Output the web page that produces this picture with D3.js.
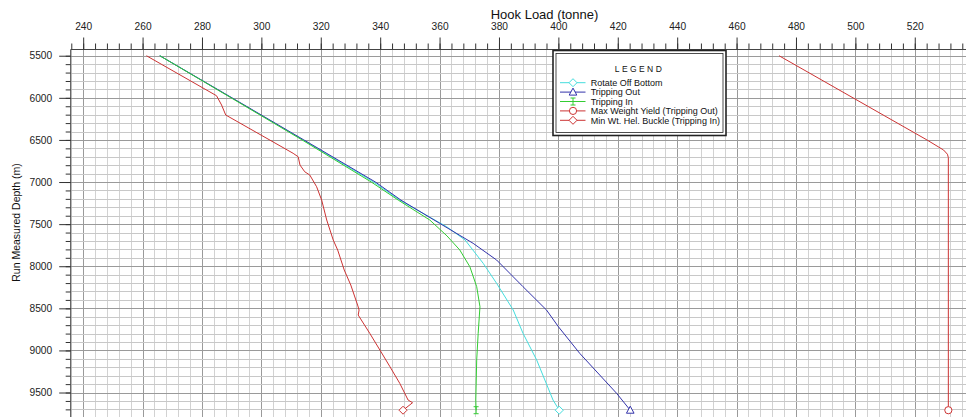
<!DOCTYPE html>
<html lang="en">
<head>
<meta charset="utf-8">
<title>Hook Load vs Run Measured Depth</title>
<script src="https://d3js.org/d3.v7.min.js"></script>
<style>
  body { margin: 0; background: #fff; }
  svg { display: block; font-family: "Liberation Sans", Arial, sans-serif; }
</style>
</head>
<body>
<div class="chart"></div>
<script>
// series data: depth (m) and hook load (tonne)
var rotateDepth = [5500, 6000, 6500, 7000, 7215, 7531, 7689, 7966, 8203, 8520, 8797, 9114, 9589, 9710];
var rotateLoad  = [265.8, 290.0, 314.0, 337.8, 346.6, 362.4, 368.6, 374.7, 379.2, 384.8, 388.1, 392.7, 398.2, 400.3];

var outDepth = [5500, 6000, 6500, 7000, 7215, 7490, 7728, 7926, 8243, 8520, 8718, 9035, 9509, 9710];
var outLoad  = [265.8, 290.1, 314.3, 338.4, 347.0, 360.0, 371.3, 379.2, 388.1, 396.0, 400.0, 407.2, 419.6, 424.2];

var inDepth = [5500, 6000, 6500, 7000, 7215, 7451, 7640, 7807, 8006, 8243, 8481, 8797, 9114, 9589, 9710];
var inLoad  = [265.8, 289.8, 313.7, 337.0, 346.1, 356.7, 362.5, 366.8, 370.2, 372.5, 373.6, 373.0, 372.5, 372.2, 372.3];

var yieldDepth = [5500, 6000, 6500, 6620, 6670, 6710, 9710];
var yieldLoad  = [474.3, 499.2, 524.1, 529.7, 531.0, 531.3, 531.3];

var buckleDepth = [5500, 5975, 6085, 6204, 6659, 6700, 6798, 6878, 6917, 7056, 7214, 7451, 7689, 7808, 8045, 8223, 8461, 8520, 8580, 8797, 8995, 9194, 9391, 9589, 9621, 9710];
var buckleLoad  = [261.3, 284.9, 286.6, 288.0, 310.7, 312.4, 313.0, 314.6, 316.3, 318.6, 320.3, 322.0, 324.2, 325.7, 327.9, 330.1, 332.4, 332.9, 332.6, 336.5, 339.9, 343.3, 346.6, 349.4, 350.9, 347.7];

var xTicks = d3.range(240, 541, 20);
var yTicks = d3.range(5500, 9501, 500);
var legendNames = ["Rotate Off Bottom", "Tripping Out", "Tripping In", "Max Weight Yield (Tripping Out)", "Min Wt. Hel. Buckle (Tripping In)"];

var w = 966, h = 417;
var svg = d3.select("div.chart").append("svg").attr("width", w).attr("height", h);

// scales (plot runs off the right and bottom edges, like the screenshot)
var x = d3.scaleLinear().domain([235.8, 545]).range([70.7, 70.7 + (545 - 235.8) * 2.97]);
var y = d3.scaleLinear().domain([5426, 9800]).range([49.5, 49.5 + (9800 - 5426) * 0.0842]);

// grid
var grid = svg.append("g");
grid.selectAll("line.vmin").data(d3.range(236, 545, 4)).enter().append("line")
    .attr("x1", function(d) { return Math.round(x(d)) + 0.5; })
    .attr("x2", function(d) { return Math.round(x(d)) + 0.5; })
    .attr("y1", 49.5).attr("y2", h)
    .attr("stroke", function(d) { return d % 20 === 0 ? "#9a9a9a" : "#d2d2d2"; });
grid.selectAll("line.hmin").data(d3.range(5500, 9801, 100)).enter().append("line")
    .attr("y1", function(d) { return Math.round(y(d)) + 0.5; })
    .attr("y2", function(d) { return Math.round(y(d)) + 0.5; })
    .attr("x1", 70.7).attr("x2", w)
    .attr("stroke", function(d) { return d % 500 === 0 ? "#9a9a9a" : "#c8c8c8"; });

// axes
var topMinor = svg.append("g").attr("transform", "translate(0,49.5)")
    .call(d3.axisTop(x).tickValues(d3.range(236, 545, 4)).tickSize(6).tickFormat(""));
var topAxis = svg.append("g").attr("transform", "translate(0,49.5)")
    .call(d3.axisTop(x).tickValues(xTicks).tickSize(12).tickPadding(8).tickFormat(d3.format("d")));
var leftMinor = svg.append("g").attr("transform", "translate(70.7,0)")
    .call(d3.axisLeft(y).tickValues(d3.range(5500, 9801, 100)).tickSize(5).tickFormat(""));
var leftAxis = svg.append("g").attr("transform", "translate(70.7,0)")
    .call(d3.axisLeft(y).tickValues(yTicks).tickSize(11.5).tickPadding(7).tickFormat(d3.format("d")));

svg.selectAll(".domain").attr("stroke", "#444").attr("d", function() {
    return d3.select(this).attr("d");
});
topAxis.select(".domain").attr("d", "M70.7,0H" + w);
topMinor.select(".domain").remove();
leftAxis.select(".domain").attr("d", "M0,49.5V" + h);
leftMinor.select(".domain").remove();
svg.selectAll(".tick line").attr("stroke", "#333");
svg.selectAll(".tick text").attr("font-size", "10.2px").attr("fill", "#222")
    .attr("font-family", "Liberation Sans, Arial, sans-serif");

// axis titles
svg.append("text").attr("x", 490.7).attr("y", 19)
    .attr("font-size", "13px").attr("fill", "#111").text("Hook Load (tonne)");
svg.append("text").attr("transform", "translate(20,222.5) rotate(-90)")
    .attr("text-anchor", "middle").attr("font-size", "10.5px").attr("fill", "#111")
    .text("Run Measured Depth (m)");

// series
var series = [
    {depth: yieldDepth,  load: yieldLoad,  color: "#cc3333", marker: "circle"},
    {depth: buckleDepth, load: buckleLoad, color: "#cc3333", marker: "diamond"},
    {depth: rotateDepth, load: rotateLoad, color: "#44dddd", marker: "diamond"},
    {depth: outDepth,    load: outLoad,    color: "#3333aa", marker: "triangle"},
    {depth: inDepth,     load: inLoad,     color: "#33cc33", marker: "ibeam"}
];
var line = d3.line().x(function(d) { return x(d[0]); }).y(function(d) { return y(d[1]); });

function drawMarker(g, kind, cx, cy, color) {
    if (kind === "circle") {
        g.append("circle").attr("cx", cx).attr("cy", cy).attr("r", 3.6)
            .attr("fill", "#fff").attr("stroke", color);
    } else if (kind === "diamond") {
        g.append("path").attr("d", "M" + cx + "," + (cy - 4) + "L" + (cx + 4) + "," + cy +
            "L" + cx + "," + (cy + 4) + "L" + (cx - 4) + "," + cy + "Z")
            .attr("fill", "#fff").attr("stroke", color);
    } else if (kind === "triangle") {
        g.append("path").attr("d", "M" + cx + "," + (cy - 4) + "L" + (cx + 3.8) + "," + (cy + 3) +
            "L" + (cx - 3.8) + "," + (cy + 3) + "Z")
            .attr("fill", "#fff").attr("stroke", color);
    } else {
        g.append("path").attr("d", "M" + (cx - 2.5) + "," + (cy - 3.5) + "H" + (cx + 2.5) +
            "M" + cx + "," + (cy - 3.5) + "V" + (cy + 3.5) +
            "M" + (cx - 2.5) + "," + (cy + 3.5) + "H" + (cx + 2.5))
            .attr("fill", "none").attr("stroke", color);
    }
}

var plot = svg.append("g");
series.forEach(function(s) {
    var pts = s.load.map(function(v, i) { return [v, s.depth[i]]; });
    plot.append("path").datum(pts).attr("d", line)
        .attr("fill", "none").attr("stroke", s.color).attr("stroke-width", 1);
    var last = pts[pts.length - 1];
    drawMarker(plot, s.marker, x(last[0]), y(last[1]), s.color);
});

// legend
var legend = svg.append("g").attr("transform", "translate(552.5,50)");
legend.append("rect").attr("x", 0.5).attr("y", 0.5).attr("width", 173).attr("height", 85)
    .attr("fill", "#fff").attr("stroke", "#222").attr("stroke-width", 1.6);
legend.append("rect").attr("x", 3.5).attr("y", 3.5).attr("width", 167).attr("height", 79)
    .attr("fill", "none").attr("stroke", "#222").attr("stroke-width", 0.8);
legend.append("text").attr("x", 87).attr("y", 22).attr("text-anchor", "middle")
    .attr("font-size", "8.5px").attr("letter-spacing", "2.4px").attr("fill", "#111").text("LEGEND");
var legendOrder = [2, 3, 4, 0, 1];
legendOrder.forEach(function(si, i) {
    var s = series[si];
    var ly = 32.7 + i * 9.4;
    legend.append("line").attr("x1", 7.5).attr("x2", 33).attr("y1", ly).attr("y2", ly)
        .attr("stroke", s.color);
    drawMarker(legend, s.marker, 20.5, ly, s.color);
    legend.append("text").attr("x", 38.2).attr("y", ly + 3.2).attr("font-size", "9px")
        .attr("fill", "#111").text(legendNames[i]);
});
</script>
</body>
</html>
